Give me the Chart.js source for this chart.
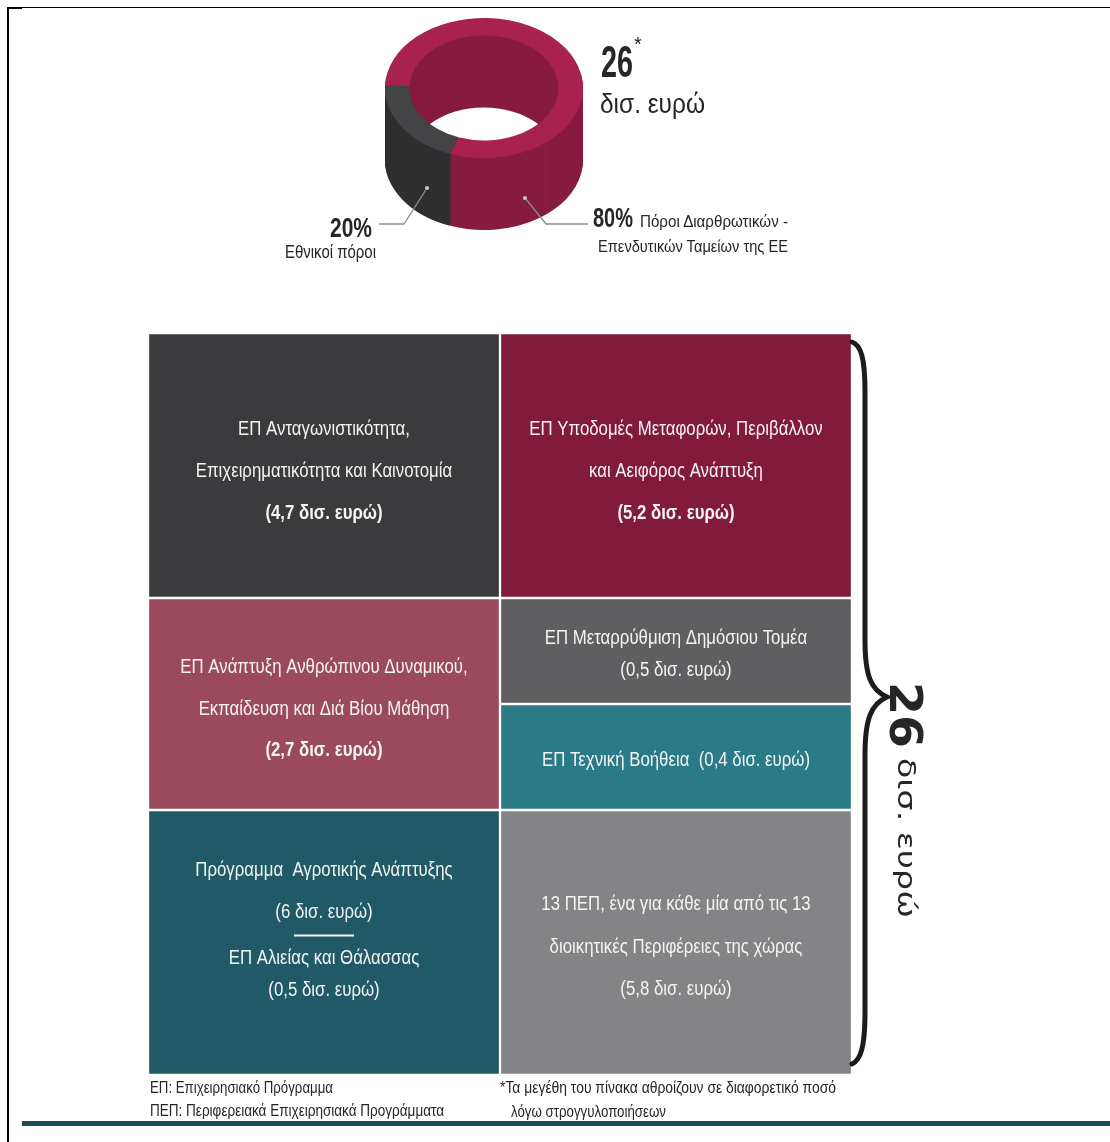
<!DOCTYPE html>
<html lang="el">
<head>
<meta charset="utf-8">
<title>Πόροι προγραμμάτων 26 δισ. ευρώ</title>
<script src="https://cdn.jsdelivr.net/npm/chart.js@4.4.1/dist/chart.umd.min.js"></script>
<style>
    html, body { margin: 0; padding: 0; background: #fff; }
    #page { position: relative; width: 1110px; height: 1142px; overflow: hidden; }
    #ringBox { position: absolute; left: 364px; top: -30px; width: 240px; height: 300px; }
    #gridBox { position: absolute; left: 148px; top: 333px; width: 704px; height: 742px; }
    #notes { position: absolute; left: 0; top: 0; pointer-events: none; }
    #notes text { font-family: "Liberation Sans", Arial, sans-serif; fill: #262626; }
</style>
</head>
<body>
<div id="page">
    <div id="ringBox"><canvas id="ringChart"></canvas></div>
    <div id="gridBox"><canvas id="gridChart"></canvas></div>

    <svg id="notes" width="1110" height="1142" viewBox="0 0 1110 1142">
        <!-- marco de la página -->
        <rect x="7" y="7" width="2" height="1135" fill="#000"/>
        <rect x="7" y="7" width="1103" height="1" fill="#000"/>
        <rect x="7" y="7" width="15" height="2" fill="#000"/>
        <rect x="22" y="1121" width="1088" height="5" fill="#1f4a5b"/>

        <!-- líneas guía del anillo -->
        <polyline points="427,188 404,224 379,224" fill="none" stroke="#8c8c8c" stroke-width="1.3"/>
        <polyline points="525,198 546,224 588,224" fill="none" stroke="#8c8c8c" stroke-width="1.3"/>
        <circle cx="427" cy="188" r="2" fill="#c9c9c9"/>
        <circle cx="525" cy="198" r="2" fill="#c9c9c9"/>

        <!-- total -->
        <text id="totalTop" x="601" y="77" font-size="44" font-weight="700" textLength="32" lengthAdjust="spacingAndGlyphs"></text>
        <text x="634" y="51" font-size="20">*</text>
        <text x="600" y="113" font-size="28" textLength="105" lengthAdjust="spacingAndGlyphs">δισ. ευρώ</text>

        <text id="shareNat" x="330" y="237" font-size="28" font-weight="700" textLength="42" lengthAdjust="spacingAndGlyphs"></text>
        <text id="labelNat" x="285" y="258" font-size="18" textLength="91" lengthAdjust="spacingAndGlyphs"></text>
        <text id="shareEu" x="593" y="227" font-size="28" font-weight="700" textLength="40" lengthAdjust="spacingAndGlyphs"></text>
        <text id="labelEu1" x="640" y="227" font-size="17" textLength="148" lengthAdjust="spacingAndGlyphs"></text>
        <text id="labelEu2" x="598" y="252" font-size="17" textLength="190" lengthAdjust="spacingAndGlyphs"></text>

        <!-- llave y total lateral -->
        <path d="M852 342 C861 345 865 358 865 392 L865 640 C865 676 871 690 887 697 C871 704 865 719 865 755 L865 1012 C865 1046 861 1060 852 1064"
              fill="none" stroke="#1c1c1c" stroke-width="5" stroke-linecap="round"/>
        <text id="totalSide" transform="translate(890 682) rotate(90)" font-size="44" font-weight="700"
              style="font-family:'DejaVu Sans',sans-serif" textLength="66" lengthAdjust="spacingAndGlyphs"></text>
        <text transform="translate(898 758) rotate(90)" font-size="24"
              style="font-family:'DejaVu Sans',sans-serif" textLength="160" lengthAdjust="spacingAndGlyphs">δισ. ευρώ</text>

        <!-- notas -->
        <text x="150" y="1093" font-size="16" textLength="183" lengthAdjust="spacingAndGlyphs">ΕΠ: Επιχειρησιακό Πρόγραμμα</text>
        <text x="150" y="1116" font-size="16" textLength="294" lengthAdjust="spacingAndGlyphs">ΠΕΠ: Περιφερειακά Επιχειρησιακά Προγράμματα</text>
        <text x="500" y="1093" font-size="16" textLength="336" lengthAdjust="spacingAndGlyphs">*Τα μεγέθη του πίνακα αθροίζουν σε διαφορετικό ποσό</text>
        <text x="511" y="1117" font-size="16" textLength="155" lengthAdjust="spacingAndGlyphs">λόγω στρογγυλοποιήσεων</text>
    </svg>
</div>

<script>
// --- DATOS ---
const totalBillion = 26;
const fundLabels = ['Πόροι Διαρθρωτικών - Επενδυτικών Ταμείων της ΕΕ', 'Εθνικοί πόροι'];
const fundShares = [80, 20];

const programmeNames = [
    ['ΕΠ Ανταγωνιστικότητα,', 'Επιχειρηματικότητα και Καινοτομία'],
    ['ΕΠ Υποδομές Μεταφορών, Περιβάλλον', 'και Αειφόρος Ανάπτυξη'],
    ['ΕΠ Ανάπτυξη Ανθρώπινου Δυναμικού,', 'Εκπαίδευση και Διά Βίου Μάθηση'],
    ['ΕΠ Μεταρρύθμιση Δημόσιου Τομέα'],
    ['ΕΠ Τεχνική Βοήθεια'],
    ['Πρόγραμμα  Αγροτικής Ανάπτυξης'],
    ['ΕΠ Αλιείας και Θάλασσας'],
    ['13 ΠΕΠ, ένα για κάθε μία από τις 13', 'διοικητικές Περιφέρειες της χώρας']
];
const programmeAmounts = [4.7, 5.2, 2.7, 0.5, 0.4, 6, 0.5, 5.8];
const programmeCell = [0, 1, 2, 3, 4, 5, 5, 6];

// --- DISPOSICIÓN DEL CUADRO (columna y filas de rejilla de cada celda) ---
const columnNames = ['Στήλη 1', 'Στήλη 2'];
const cellColumn = [0, 1, 0, 1, 1, 0, 1];
const cellRows = [5, 5, 4, 2, 2, 5, 5];
const cellColors = ['#3b3b3d', '#821b3b', '#9b4a5e', '#5f5f61', '#2a7a87', '#1f5a66', '#848486'];
const cellBoldAmount = [true, true, true, false, false, false, false];
const cellInline = [false, false, false, false, true, false, false];
const cellLineOffsets = [
    [-38, 4, 46],
    [-38, 4, 46],
    [-38, 4, 45],
    [-14, 18],
    [2],
    [-74, -32, 14, 46],
    [-40, 3, 45]
];
const cellRuleOffset = [null, null, null, null, null, -7, null];

const ringColors = ['#a8214f', '#444447'];
const ringSideColors = ['#871c40', '#2f2f31'];
const ringTilt = 0.707;
const ringDepth = 72;

const FONT = '"Liberation Sans", Arial, sans-serif';
const TEXT_SQUEEZE = 0.84;

document.addEventListener('DOMContentLoaded', () => {
    // textos ligados a los datos
    document.getElementById('totalTop').textContent = totalBillion;
    document.getElementById('totalSide').textContent = totalBillion;
    document.getElementById('shareEu').textContent = fundShares[0] + '%';
    document.getElementById('shareNat').textContent = fundShares[1] + '%';
    document.getElementById('labelNat').textContent = fundLabels[1];
    const euParts = fundLabels[0].split(' - ');
    document.getElementById('labelEu1').textContent = euParts[0] + ' -';
    document.getElementById('labelEu2').textContent = euParts[1];

    // --- ANILLO 3D ---
    const ring3d = {
        id: 'ring3d',
        beforeDatasetsDraw(chart) {
            const ctx = chart.ctx;
            const arcs = chart.getDatasetMeta(0).data;
            const cx = arcs[0].x, cy = arcs[0].y;
            ctx.save();
            ctx.translate(cx, cy);
            ctx.scale(1, ringTilt);
            ctx.translate(-cx, -cy);
            // laterales: copias desplazadas hacia abajo
            for (let d = ringDepth; d > 0; d--) {
                arcs.forEach((arc, i) => {
                    const opts = arc.options;
                    arc.options = Object.assign({}, opts, { backgroundColor: ringSideColors[i] });
                    ctx.save();
                    ctx.translate(0, d / ringTilt);
                    arc.draw(ctx);
                    ctx.restore();
                    arc.options = opts;
                });
            }
        },
        afterDatasetsDraw(chart) {
            chart.ctx.restore();
        }
    };

    new Chart(document.getElementById('ringChart'), {
        type: 'doughnut',
        data: {
            labels: fundLabels,
            datasets: [{
                data: fundShares,
                backgroundColor: ringColors,
                borderWidth: 0,
                clip: false
            }]
        },
        options: {
            responsive: true,
            maintainAspectRatio: false,
            animation: false,
            events: [],
            rotation: 272,
            radius: 99,
            cutout: '75%',
            layout: { padding: { bottom: 64 } },
            plugins: { legend: { display: false }, tooltip: { enabled: false } }
        },
        plugins: [ring3d]
    });

    // --- CUADRO DE PROGRAMAS ---
    const fmt = v => '(' + v.toLocaleString('el-GR') + ' δισ. ευρώ)';

    function cellLines(c) {
        const lines = [];
        programmeCell.forEach((cell, p) => {
            if (cell !== c) return;
            const names = programmeNames[p];
            if (cellInline[c]) {
                lines.push({ text: names.join(' ') + '  ' + fmt(programmeAmounts[p]), bold: false });
                return;
            }
            names.forEach(n => lines.push({ text: n, bold: false }));
            lines.push({ text: fmt(programmeAmounts[p]), bold: cellBoldAmount[c] });
        });
        return lines;
    }

    const cellLabels = {
        id: 'cellLabels',
        afterDatasetsDraw(chart) {
            const ctx = chart.ctx;
            cellColumn.forEach((col, c) => {
                const bar = chart.getDatasetMeta(c).data[col];
                if (!bar) return;
                const cx = bar.x;
                const cy = (bar.y + bar.base) / 2;
                const lines = cellLines(c);
                ctx.save();
                ctx.fillStyle = '#f4f4f4';
                ctx.textAlign = 'center';
                ctx.textBaseline = 'alphabetic';
                lines.forEach((ln, i) => {
                    ctx.font = (ln.bold ? '700 ' : '400 ') + '20px ' + FONT;
                    ctx.save();
                    ctx.translate(cx, cy + cellLineOffsets[c][i] + 7);
                    ctx.scale(TEXT_SQUEEZE, 1);
                    ctx.fillText(ln.text, 0, 0);
                    ctx.restore();
                });
                if (cellRuleOffset[c] !== null) {
                    ctx.strokeStyle = '#f4f4f4';
                    ctx.lineWidth = 2;
                    ctx.beginPath();
                    ctx.moveTo(cx - 30, cy + cellRuleOffset[c]);
                    ctx.lineTo(cx + 30, cy + cellRuleOffset[c]);
                    ctx.stroke();
                }
                ctx.restore();
            });
        }
    };

    const gridDatasets = cellColumn.map((col, c) => ({
        label: programmeCell.map((cell, p) => cell === c ? programmeNames[p].join(' ') : null).filter(Boolean).join(' / '),
        data: columnNames.map((_, k) => k === col ? cellRows[c] : null),
        backgroundColor: cellColors[c],
        borderColor: '#ffffff',
        borderWidth: 1.5,
        borderSkipped: false,
        stack: 'grid',
        barPercentage: 1,
        categoryPercentage: 1
    }));

    new Chart(document.getElementById('gridChart'), {
        type: 'bar',
        data: { labels: columnNames, datasets: gridDatasets },
        options: {
            responsive: true,
            maintainAspectRatio: false,
            animation: false,
            events: [],
            layout: { padding: 0 },
            scales: {
                x: { display: false, stacked: true },
                y: { display: false, stacked: true, reverse: true, min: 0, max: 14 }
            },
            plugins: { legend: { display: false }, tooltip: { enabled: false } }
        },
        plugins: [cellLabels]
    });
});
</script>
</body>
</html>
